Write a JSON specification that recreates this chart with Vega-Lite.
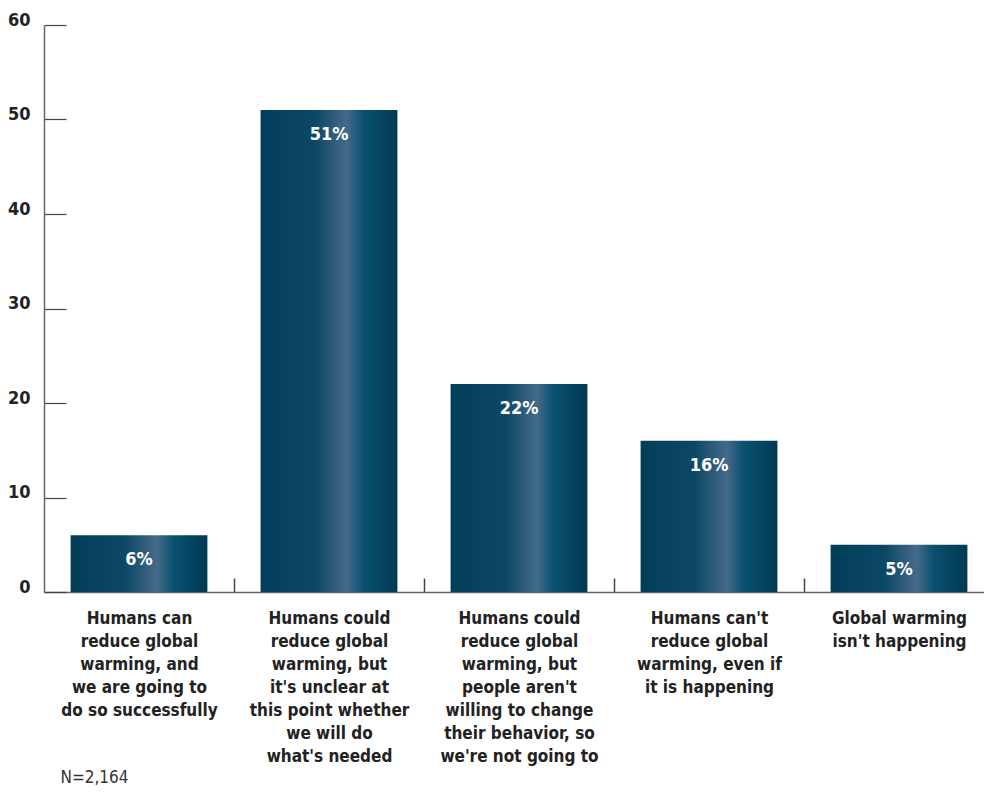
{
  "$schema": "https://vega.github.io/schema/vega-lite/v6.json",
  "width": 950,
  "height": 567,
  "autosize": {"type": "none"},
  "padding": {"left": 44, "top": 25, "right": 0, "bottom": 201},
  "background": "white",
  "config": {"view": {"stroke": null}, "font": "DejaVu Sans Condensed, Roboto, sans-serif"},
  "title": {"text": "N=2,164", "orient": "bottom", "anchor": "start", "dx": 53, "offset": 6, "fontSize": 17, "fontWeight": "normal", "color": "#333", "font": "DejaVu Sans Condensed, Roboto, sans-serif"},
  "data": {"values": [
    {"answer": "Humans can|reduce global|warming, and|we are going to|do so successfully", "value": 6, "label": "6%"},
    {"answer": "Humans could|reduce global|warming, but|it's unclear at|this point whether|we will do|what's needed", "value": 51, "label": "51%"},
    {"answer": "Humans could|reduce global|warming, but|people aren't|willing to change|their behavior, so|we're not going to", "value": 22, "label": "22%"},
    {"answer": "Humans can't|reduce global|warming, even if|it is happening", "value": 16, "label": "16%"},
    {"answer": "Global warming|isn't happening", "value": 5, "label": "5%"}
  ]},
  "encoding": {
    "x": {"field": "answer", "type": "nominal", "sort": null,
      "scale": {"paddingInner": 0.28, "paddingOuter": 0.14},
      "axis": {"title": null, "labelAngle": 0, "domainColor": "#666", "domainWidth": 1.5, "tickColor": "#444", "tickOffset": 95, "labelOffset": -95, "tickSize": -14, "tickWidth": 1.5,
        "labelFontSize": 17, "labelFontWeight": "bold", "labelLineHeight": 23, "labelPadding": 32, "labelBaseline": "top", "labelLimit": 0, "labelColor": "#222",
        "labelExpr": "split(datum.label, '|')"}},
    "y": {"field": "value", "type": "quantitative",
      "scale": {"domain": [0, 60], "nice": false},
      "axis": {"title": null, "values": [0, 10, 20, 30, 40, 50, 60], "grid": false, "domainColor": "#666", "domainWidth": 1.5, "tickColor": "#444", "tickSize": -22, "tickWidth": 1.2,
        "labelPadding": 36, "labelFontSize": 18, "labelFontWeight": "bold", "labelBaseline": "alphabetic", "labelColor": "#222"}}
  },
  "layer": [
    {"mark": {"type": "bar", "color": {"gradient": "linear", "x1": 0, "x2": 1, "y1": 0, "y2": 0, "stops": [
      {"offset": 0, "color": "#023e5a"},
      {"offset": 0.4, "color": "#0c4865"},
      {"offset": 0.63, "color": "#456a89"},
      {"offset": 0.75, "color": "#0a5170"},
      {"offset": 1, "color": "#013953"}]}}},
    {"mark": {"type": "text", "color": "white", "fontSize": 18, "fontWeight": "bold", "baseline": "middle", "dy": 25}, "encoding": {"text": {"field": "label"}}}
  ]
}
